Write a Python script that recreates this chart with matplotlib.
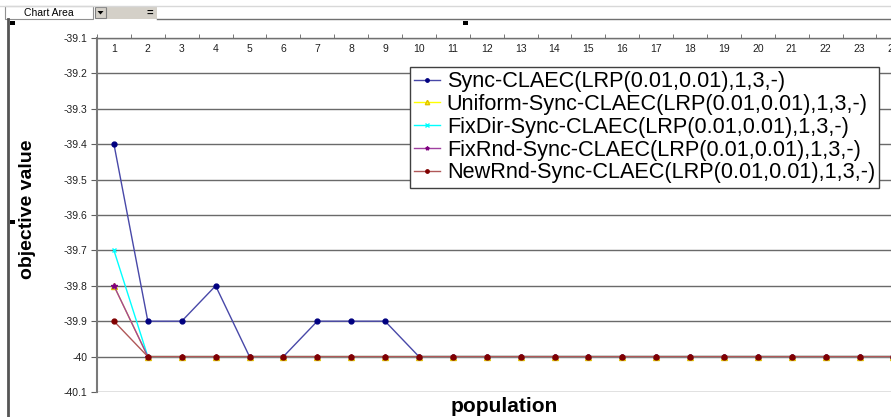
import matplotlib.pyplot as plt
import matplotlib.patches as patches
import numpy as np

plt.rcParams['font.family'] = ['Liberation Sans', 'DejaVu Sans']

# population index and objective value per run type
population = list(range(1, 25))
sync     = [-39.4, -39.9, -39.9, -39.8, -40, -40, -39.9, -39.9, -39.9] + [-40] * 15
uniform  = [-39.8] + [-40] * 23
fixdir   = [-39.7] + [-40] * 23
fixrnd   = [-39.8] + [-40] * 23
newrnd   = [-39.9] + [-40] * 23

labels = ['Sync-CLAEC(LRP(0.01,0.01),1,3,-)',
          'Uniform-Sync-CLAEC(LRP(0.01,0.01),1,3,-)',
          'FixDir-Sync-CLAEC(LRP(0.01,0.01),1,3,-)',
          'FixRnd-Sync-CLAEC(LRP(0.01,0.01),1,3,-)',
          'NewRnd-Sync-CLAEC(LRP(0.01,0.01),1,3,-)']
y_ticks = [-40.1, -40.0, -39.9, -39.8, -39.7, -39.6, -39.5, -39.4, -39.3, -39.2, -39.1]

W, H = 891, 417
CAT_W = 33.89  # pixels per category
fig = plt.figure(figsize=(W / 100, H / 100), dpi=100)
fig.patch.set_facecolor('white')

def fx(x):
    return x / W

def fy(y):
    return 1 - y / H

def box(x0, y0, x1, y1, fc, ec='none', lw=0.0):
    fig.add_artist(patches.Rectangle((fx(x0), fy(y1)), fx(x1) - fx(x0), fy(y0) - fy(y1),
                                     transform=fig.transFigure, facecolor=fc,
                                     edgecolor=ec, linewidth=lw))

# plot area runs on past the right edge of the figure
ax = fig.add_axes([fx(97), fy(392), fx(24 * CAT_W), fy(38) - fy(392)])

ax.plot(population, sync, color='#4848a8', lw=1, marker='o', ms=3.5,
        mfc='#000080', mec='#000080', label=labels[0])
ax.plot(population, uniform, color='#ffff00', lw=1, marker='^', ms=4.5,
        mfc='#ffff00', mec='#e0c000', label=labels[1])
ax.plot(population, fixdir, color='#00ffff', lw=1, marker='x', ms=3.5,
        mew=1, label=labels[2])
ax.plot(population, fixrnd, color='#a040a0', lw=1, marker='*', ms=4,
        mfc='#800080', mec='#800080', label=labels[3])
ax.plot(population, newrnd, color='#b05858', lw=1, marker='o', ms=3.5,
        mfc='#800000', mec='#800000', label=labels[4])

ax.set_yticks(y_ticks)
ax.set_yticklabels([f'{v:g}' for v in y_ticks])
ax.yaxis.grid(True, color='#6a6a6a', lw=1)
ax.set_axisbelow(True)

# category labels sit just under the top axis line, ticks between categories
ax.set_xticks(population)
ax.set_xticklabels([str(p) for p in population])
ax.set_xticks(np.arange(0.5, 24.6, 1), minor=True)
ax.tick_params(axis='x', which='major', bottom=False, labelbottom=False,
               top=False, labeltop=True, pad=-15, labelsize=7.5, labelcolor='#202020')
ax.tick_params(axis='x', which='minor', bottom=False, top=True, direction='out',
               length=3, color='#606060')
ax.tick_params(axis='y', direction='out', length=4, color='#606060',
               labelsize=7.5, labelcolor='#202020', pad=3)

ax.set_xlim(0.5, 24.5)
ax.set_ylim(-40.1, -39.1)

for s in ['right', 'bottom']:
    ax.spines[s].set_visible(False)
ax.spines['left'].set_color('#7a7a7a')
ax.spines['left'].set_linewidth(1.5)
ax.spines['top'].set_color('#707070')
ax.spines['top'].set_linewidth(1)

leg = ax.legend(loc='upper left', bbox_to_anchor=(fx(410), fy(67)),
                bbox_transform=fig.transFigure, borderaxespad=0, fontsize=15.6,
                frameon=True, fancybox=False, framealpha=1, edgecolor='#404040',
                handlelength=1.2, handletextpad=0.3, labelspacing=0.08,
                borderpad=0.2, markerscale=0.7)
leg.get_frame().set_linewidth(1)

fig.text(fx(28), fy(209), 'objective value', rotation=90, ha='center', va='center',
         fontsize=14, fontweight='bold')
fig.text(fx(504), fy(406), 'population', ha='center', va='center',
         fontsize=15, fontweight='bold')

# chart area frame and toolbar strip
fig.add_artist(plt.Line2D([fx(8), fx(8)], [fy(19), 0], transform=fig.transFigure,
                          color='#555555', lw=2))
fig.add_artist(plt.Line2D([fx(0), 1], [fy(6), fy(6)], transform=fig.transFigure,
                          color='#d8d8d8', lw=1))
fig.add_artist(plt.Line2D([fx(157), 1], [fy(19), fy(19)], transform=fig.transFigure,
                          color='#707070', lw=1))
box(106, 6, 157, 19, '#d4d0c8')
box(5, 6, 93, 19, 'white', '#909090', 0.8)
fig.text(fx(49), fy(12.5), 'Chart Area', ha='center', va='center', fontsize=7.5)
box(95, 7, 106, 18, '#d4d0c8', '#808080', 0.8)
fig.add_artist(patches.Polygon([(fx(97.5), fy(11)), (fx(103.5), fy(11)), (fx(100.5), fy(14.5))],
                               closed=True, transform=fig.transFigure, facecolor='black'))
fig.text(fx(150), fy(12.5), '=', ha='center', va='center', fontsize=8, fontweight='bold')

# selection handles
for hx, hy in [(12, 23), (465, 23), (12, 222)]:
    box(hx - 2.5, hy - 2, hx + 2.5, hy + 2, 'black')

fig.savefig('out.png', dpi=100)
